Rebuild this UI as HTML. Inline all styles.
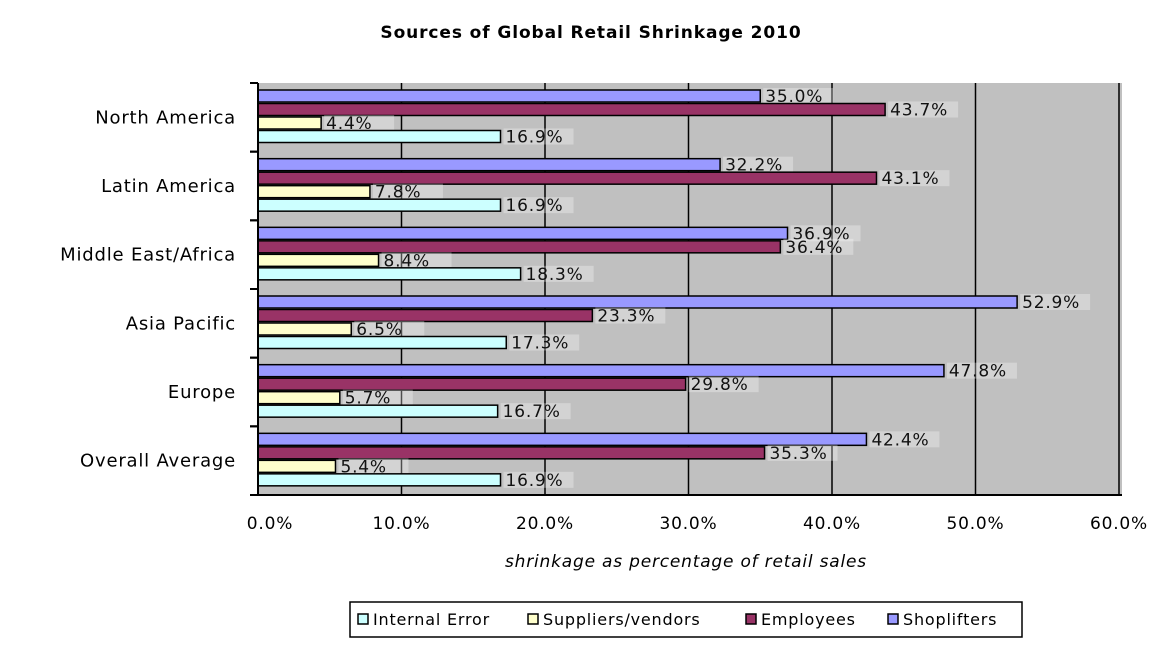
<!DOCTYPE html>
<html><head><meta charset="utf-8"><style>
body{margin:0;background:#fff;font-family:"DejaVu Sans","Liberation Sans",sans-serif;}
svg text{font-family:"DejaVu Sans","Liberation Sans",sans-serif;letter-spacing:0.8px;}
</style></head><body>
<svg width="1172" height="652">
<text x="591" y="38" text-anchor="middle" font-size="17" font-weight="bold" style="letter-spacing:0.9px">Sources of Global Retail Shrinkage 2010</text>
<rect x="258" y="83" width="864" height="412" fill="#c0c0c0"/>
<g id="grid"></g>
<g id="bars"></g>
<g id="axes"></g>
<text x="686" y="567" text-anchor="middle" font-size="17" font-style="italic">shrinkage as percentage of retail sales</text>
<g>
<rect x="350" y="602" width="672" height="35" fill="#fff" stroke="#000" stroke-width="1.5"/>
<g id="legend"></g>
</g>
</svg>
<script>
const categories=["North America","Latin America","Middle East/Africa","Asia Pacific","Europe","Overall Average"];
const seriesNames=["Shoplifters","Employees","Suppliers/vendors","Internal Error"];
const shoplifters=[35.0,32.2,36.9,52.9,47.8,42.4];
const employees=[43.7,43.1,36.4,23.3,29.8,35.3];
const suppliers=[4.4,7.8,8.4,6.5,5.7,5.4];
const internalError=[16.9,16.9,18.3,17.3,16.7,16.9];
const xTicks=[0,10,20,30,40,50,60];
const colors=["#9999ff","#993366","#ffffcc","#ccffff"];
const NS="http://www.w3.org/2000/svg";
const X0=258,X1=1119,Y0=83,Y1=495;
const x=v=>X0+(v/60)*(X1-X0);
const bandH=(Y1-Y0)/categories.length;
const y=i=>Y0+i*bandH;
function mk(tag,attrs,parent){const e=document.createElementNS(NS,tag);for(const k in attrs)e.setAttribute(k,attrs[k]);parent.appendChild(e);return e;}
const grid=document.getElementById('grid'),bars=document.getElementById('bars'),axes=document.getElementById('axes');
xTicks.forEach(t=>{
  if(t>0){const l=mk('line',{x1:x(t),x2:x(t),y1:Y0,y2:Y1,stroke:'#000','stroke-width':1.5},grid);
  
  }
  const tx=mk('text',{x:x(t)+(t==0?12:0),y:529,'text-anchor':'middle','font-size':17},axes);
  tx.textContent=t.toFixed(1)+'%';
  
  
});
mk('line',{x1:X0,x2:X0,y1:Y0,y2:Y1,stroke:'#000','stroke-width':2},axes);
mk('line',{x1:X0,x2:X1+3,y1:Y1,y2:Y1,stroke:'#000','stroke-width':2},axes);
const all=[shoplifters,employees,suppliers,internalError];
categories.forEach((c,i)=>{
  const ct=mk('text',{x:236,y:y(i)+bandH/2+6,'text-anchor':'end','font-size':18},axes);
  ct.textContent=c;
  
  
  mk('line',{x1:X0-8,x2:X0,y1:y(i),y2:y(i),stroke:'#000','stroke-width':2},axes);
  mk('line',{x1:X0-8,x2:X0,y1:y(i+1),y2:y(i+1),stroke:'#000','stroke-width':2},axes);
  all.forEach((s,j)=>{
    const by=y(i)+7+j*13.5;
    const r=mk('rect',{x:X0,y:by,width:x(s[i])-X0,height:12,fill:colors[j],stroke:'#000','stroke-width':1.5},bars);
    
    
    const lx=x(s[i])+3;
    mk('rect',{x:lx,y:by-2,width:70,height:16,fill:'#fff','fill-opacity':0.3},bars);
    const t=mk('text',{x:lx+2,y:by+12,'font-size':17,fill:'#111'},bars);
    t.textContent=s[i].toFixed(1)+'%';
    
    
  });
});
const lg=document.getElementById('legend');
const legendItems=[["Internal Error",colors[3],358],["Suppliers/vendors",colors[2],528],["Employees",colors[1],746],["Shoplifters",colors[0],888]];
legendItems.forEach(([n,c,lx])=>{
  const g=mk('g',{},lg);
  
  
  mk('rect',{x:lx,y:614,width:10,height:10,fill:c,stroke:'#000','stroke-width':1.5},g);
  const t=mk('text',{x:lx+15,y:625,'font-size':16},g);t.textContent=n;
});
</script>
</body></html>
